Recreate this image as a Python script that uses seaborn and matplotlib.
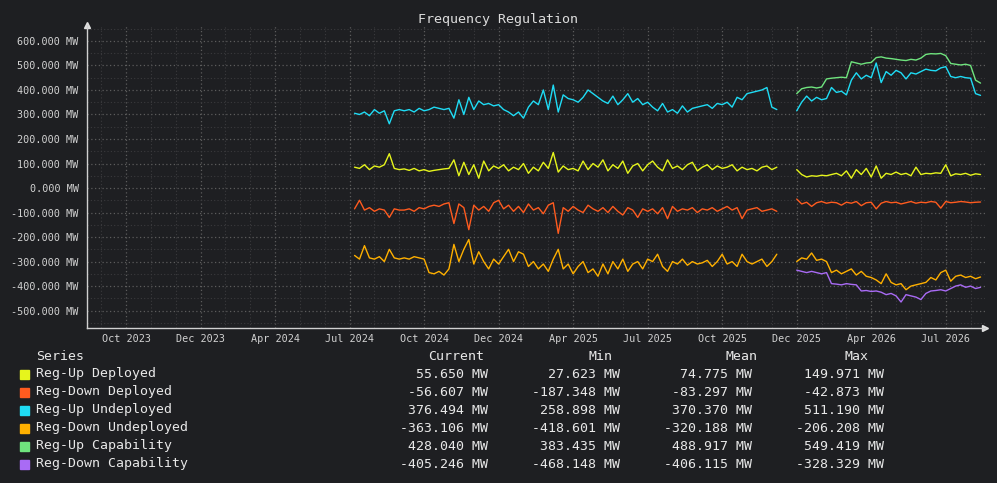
import numpy as np
import pandas as pd
import matplotlib
matplotlib.use("Agg")
import matplotlib.pyplot as plt
from matplotlib.ticker import FixedLocator, MultipleLocator, FuncFormatter
import seaborn as sns

# --- 1. Data (MW) ---
SERIES = ["Reg-Up Deployed", "Reg-Down Deployed", "Reg-Up Undeployed",
          "Reg-Down Undeployed", "Reg-Up Capability", "Reg-Down Capability"]
COLORS = ["#e6f51c", "#ff5b1f", "#1fdcf5", "#ffb000", "#6fe47e", "#a96bf5"]

TICK_LABELS = ["Oct 2023", "Dec 2023", "Apr 2024", "Jul 2024", "Oct 2024", "Dec 2024",
               "Apr 2025", "Jul 2025", "Oct 2025", "Dec 2025", "Apr 2026", "Jul 2026"]

# first block of readings
seg1_start = 46
reg_up_dep_1 = [85, 80, 95, 75, 90, 85, 95, 140, 80, 75,
                78, 72, 80, 70, 75, 68, 72, 75, 78, 80,
                115, 50, 105, 55, 95, 40, 110, 70, 90, 80,
                95, 70, 85, 75, 100, 60, 85, 70, 105, 80,
                145, 65, 90, 75, 80, 70, 110, 75, 100, 85,
                115, 70, 95, 80, 110, 60, 90, 100, 70, 95,
                110, 85, 70, 115, 80, 90, 75, 95, 105, 70,
                85, 95, 75, 90, 80, 85, 95, 70, 85, 75,
                80, 70, 85, 90, 75, 85]
reg_down_dep_1 = [-85, -50, -90, -80, -95, -85, -90, -120, -85, -90,
                  -90, -85, -95, -80, -85, -75, -70, -75, -65, -60,
                  -145, -65, -80, -170, -70, -90, -75, -95, -60, -50,
                  -85, -70, -95, -75, -100, -65, -90, -80, -105, -70,
                  -60, -185, -80, -95, -75, -90, -100, -70, -85, -95,
                  -80, -100, -75, -95, -110, -80, -90, -120, -85, -95,
                  -85, -105, -80, -125, -75, -95, -85, -90, -80, -100,
                  -85, -90, -80, -95, -85, -75, -90, -80, -125, -90,
                  -85, -80, -95, -90, -85, -95]
reg_up_undep_1 = [305, 300, 310, 295, 320, 305, 315, 262, 315, 320,
                  315, 320, 310, 325, 315, 320, 330, 325, 320, 325,
                  285, 360, 300, 370, 320, 355, 340, 345, 335, 340,
                  320, 310, 295, 310, 285, 330, 355, 340, 400, 320,
                  420, 310, 380, 365, 360, 350, 370, 400, 385, 370,
                  355, 345, 375, 340, 360, 385, 350, 365, 340, 350,
                  330, 315, 345, 310, 320, 305, 335, 310, 325, 330,
                  335, 340, 325, 345, 340, 350, 330, 370, 360, 385,
                  390, 395, 400, 410, 330, 320]
reg_down_undep_1 = [-275, -290, -235, -285, -290, -280, -300, -250, -285, -290,
                    -285, -290, -280, -285, -290, -345, -350, -340, -355, -330,
                    -230, -300, -250, -210, -310, -260, -300, -330, -290, -310,
                    -280, -250, -300, -260, -270, -320, -300, -330, -310, -340,
                    -290, -250, -330, -310, -350, -320, -300, -345, -330, -360,
                    -310, -350, -300, -330, -290, -340, -310, -300, -330, -290,
                    -300, -270, -320, -340, -300, -310, -290, -315, -300, -310,
                    -305, -295, -320, -300, -270, -310, -300, -320, -270, -300,
                    -310, -300, -290, -320, -300, -270]

# second block of readings
seg2_start = 135
reg_up_dep_2 = [75, 55, 45, 50, 48, 52, 50, 55, 60, 50,
                70, 40, 75, 55, 80, 45, 90, 40, 60, 55,
                65, 55, 60, 50, 85, 55, 60, 58, 62, 60,
                95, 50, 58, 55, 60, 52, 58, 55]
reg_down_dep_2 = [-45, -65, -58, -75, -60, -55, -62, -58, -60, -70,
                  -58, -62, -55, -72, -60, -58, -85, -62, -55, -60,
                  -58, -65, -60, -55, -62, -58, -60, -55, -58, -82,
                  -55, -60, -58, -55, -57, -60, -58, -57]
reg_up_undep_2 = [315, 350, 375, 355, 370, 360, 365, 410, 390, 395,
                  380, 440, 470, 445, 460, 450, 510, 430, 475, 460,
                  480, 470, 445, 470, 465, 475, 485, 480, 478, 490,
                  495, 455, 450, 455, 450, 448, 385, 378]
reg_down_undep_2 = [-300, -285, -290, -265, -295, -290, -300, -345, -335, -350,
                    -340, -330, -355, -340, -360, -365, -375, -390, -350, -385,
                    -395, -390, -415, -400, -395, -390, -385, -365, -375, -345,
                    -335, -380, -360, -355, -365, -360, -370, -363]
reg_up_cap_2 = [385, 405, 410, 412, 408, 412, 445, 448, 450, 452,
                450, 515, 510, 505, 510, 512, 532, 535, 530, 528,
                525, 522, 520, 525, 522, 530, 545, 548, 547, 549,
                540, 508, 505, 502, 505, 500, 440, 428]
reg_down_cap_2 = [-335, -340, -345, -340, -345, -350, -345, -390, -392, -395,
                  -390, -393, -395, -420, -418, -422, -420, -425, -435, -430,
                  -440, -465, -435, -440, -445, -455, -430, -420, -418, -415,
                  -420, -410, -400, -395, -405, -400, -410, -405]

# summary table
CURRENT = [55.650, -56.607, 376.494, -363.106, 428.040, -405.246]
MIN = [27.623, -187.348, 258.898, -418.601, 383.435, -468.148]
MEAN = [74.775, -83.297, 370.370, -320.188, 488.917, -406.115]
MAX = [149.971, -42.873, 511.190, -206.208, 549.419, -328.329]

# --- 2. Long-form table ---
blocks = [
    (SERIES[0], 1, seg1_start, reg_up_dep_1), (SERIES[1], 1, seg1_start, reg_down_dep_1),
    (SERIES[2], 1, seg1_start, reg_up_undep_1), (SERIES[3], 1, seg1_start, reg_down_undep_1),
    (SERIES[0], 2, seg2_start, reg_up_dep_2), (SERIES[1], 2, seg2_start, reg_down_dep_2),
    (SERIES[2], 2, seg2_start, reg_up_undep_2), (SERIES[3], 2, seg2_start, reg_down_undep_2),
    (SERIES[4], 2, seg2_start, reg_up_cap_2), (SERIES[5], 2, seg2_start, reg_down_cap_2),
]
frames = []
for name, seg, start, vals in blocks:
    frames.append(pd.DataFrame({"x": start + np.arange(len(vals)), "value": vals,
                                "series": name, "segment": seg}))
df = pd.concat(frames, ignore_index=True)

# --- 3. Style ---
BG = "#1e1f22"
FG = "#d2d2d2"
sns.set_theme(style="dark", rc={"axes.facecolor": BG, "figure.facecolor": BG})
plt.rcParams["font.family"] = ["DejaVu Sans Mono", "DejaVu Sans"]

W, H = 997, 483
fig = plt.figure(figsize=(W / 100, H / 100), dpi=100)
ax = fig.add_axes([87 / W, 1 - 328 / H, (985 - 87) / W, (328 - 25) / H])

sns.lineplot(data=df, x="x", y="value", hue="series", units="segment", estimator=None,
             palette=dict(zip(SERIES, COLORS)), hue_order=SERIES, linewidth=1.0,
             legend=False, ax=ax)

ax.set_xlim(-7.85, 172.9)
ax.set_ylim(-571, 665)
ax.xaxis.set_major_locator(FixedLocator(np.arange(len(TICK_LABELS)) * 15))
ax.xaxis.set_minor_locator(MultipleLocator(5))
ax.set_xticklabels(TICK_LABELS)
ax.yaxis.set_major_locator(FixedLocator(np.arange(-500, 601, 100)))
ax.yaxis.set_minor_locator(MultipleLocator(50))
ax.yaxis.set_major_formatter(FuncFormatter(lambda v, p: f"{v:.3f} MW"))
ax.set_xlabel("")
ax.set_ylabel("")

ax.grid(which="major", color="#5c5c5c", linestyle=(0, (1, 2)), linewidth=0.9)
ax.grid(which="minor", color="#3a3a3d", linestyle=(0, (1, 2)), linewidth=0.8)
ax.tick_params(axis="both", which="major", colors="#bdbdbd", labelsize=7.3,
               length=4, width=0.8, pad=2, labelcolor=FG)
ax.tick_params(axis="both", which="minor", length=0)
ax.tick_params(axis="x", length=0, pad=4)

for side in ["top", "right"]:
    ax.spines[side].set_visible(False)
for side in ["left", "bottom"]:
    ax.spines[side].set_color("#d0d0d0")
    ax.spines[side].set_linewidth(1.0)
ax.plot(1, 0, ">", color="#e0e0e0", markersize=5, transform=ax.transAxes, clip_on=False)
ax.plot(0, 1, "^", color="#e0e0e0", markersize=5, transform=ax.transAxes, clip_on=False)

fig.text(498 / W, 1 - 19 / H, "Frequency Regulation", color="#dddddd",
         fontsize=9.6, ha="center", va="center")

# --- 4. Summary table under the chart ---
def px(x, y):
    return x / W, 1 - y / H

TXT = "#e8e8e8"
fs = 9.5
fig.text(*px(36, 356), "Series", color=TXT, fontsize=fs, ha="left", va="center")
for label, right in [("Current", 484), ("Min", 612), ("Mean", 757), ("Max", 868)]:
    fig.text(*px(right, 356), label, color=TXT, fontsize=fs, ha="right", va="center")

for i, name in enumerate(SERIES):
    y = 374 + 18 * i
    fig.patches.append(plt.Rectangle(px(20, y + 4.5), 9 / W, 9 / H, color=COLORS[i],
                                     transform=fig.transFigure, figure=fig))
    fig.text(*px(36, y), name, color=TXT, fontsize=fs, ha="left", va="center")
    for vals, right in [(CURRENT, 488), (MIN, 620), (MEAN, 752), (MAX, 884)]:
        fig.text(*px(right, y), f"{vals[i]:.3f} MW", color=TXT, fontsize=fs,
                 ha="right", va="center")

fig.savefig("out.png", dpi=100, facecolor=BG)
